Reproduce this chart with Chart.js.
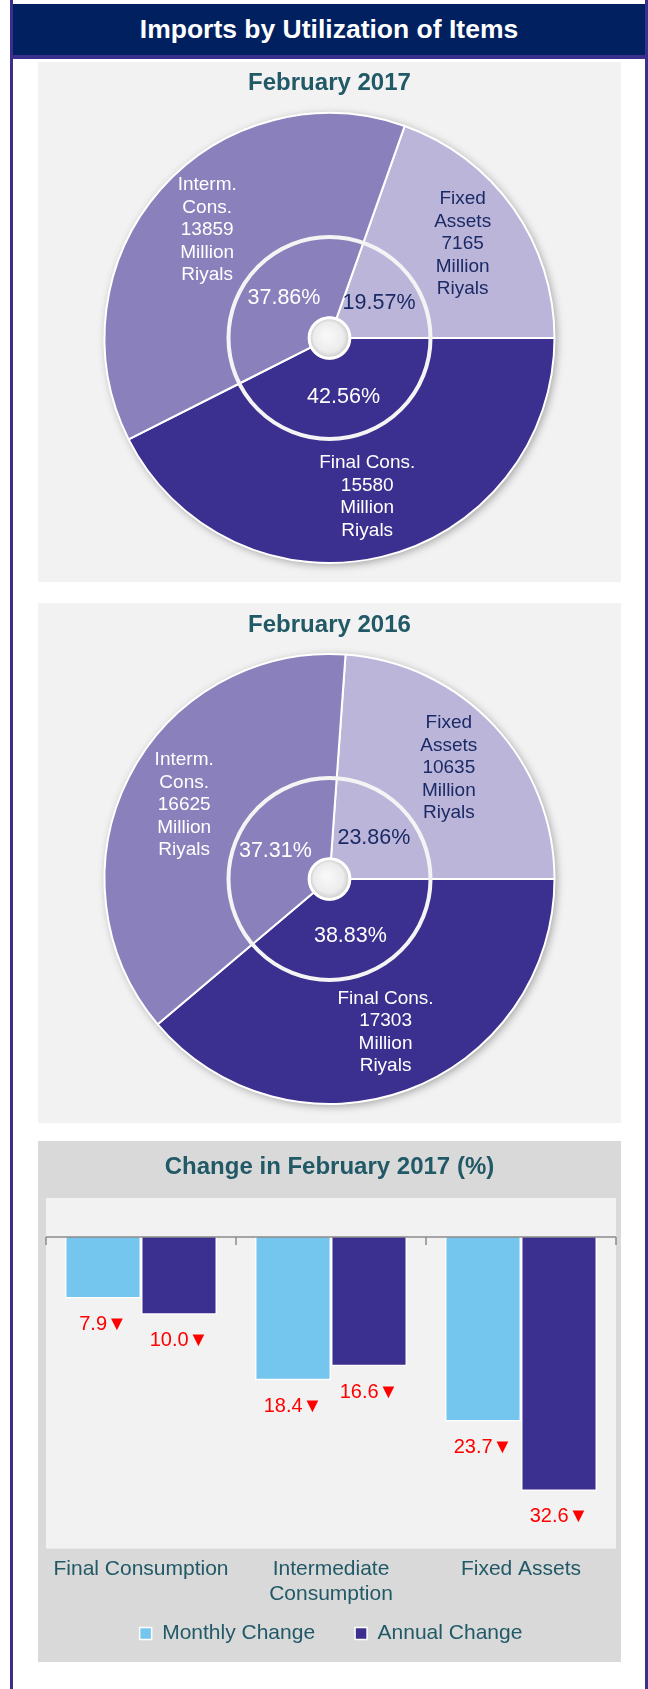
<!DOCTYPE html>
<html>
<head>
<meta charset="utf-8">
<script src="https://cdn.jsdelivr.net/npm/chart.js@4"></script>
<style>
  body { margin: 0; width: 648px; height: 1689px; background: #fff; overflow: hidden;
         font-family: 'Liberation Sans', Arial, sans-serif; }
  .frame { position: absolute; left: 10px; top: 0; width: 632px; height: 1689px;
           border-left: 3px solid #3a2f8f; border-right: 3px solid #3a2f8f; }
  .header { position: absolute; left: 13px; top: 4px; width: 632px; height: 51px;
            background: #002060; border-bottom: 4px solid #3a2f8f; color: #fff;
            font-weight: bold; font-size: 26.5px; line-height: 51px; text-align: center; }
  .panel { position: absolute; left: 38px; width: 583px; background: #f2f2f2; }
  .panel canvas { position: absolute; left: 0; top: 0; }
  .ptitle { position: absolute; left: 0; width: 100%; text-align: center;
            color: #215967; font-weight: bold; font-size: 24px; line-height: 30px; }
</style>
</head>
<body>
<div class="frame"></div>
<div class="header">Imports by Utilization of Items</div>

<div class="panel" style="top:62px;height:520px;">
  <canvas id="pie2017" width="583" height="520"></canvas>
  <div class="ptitle" style="top:5px;">February 2017</div>
</div>

<div class="panel" style="top:603px;height:520px;">
  <canvas id="pie2016" width="583" height="520"></canvas>
  <div class="ptitle" style="top:6px;">February 2016</div>
</div>

<div class="panel" style="top:1141px;height:521px;background:#d9d9d9;">
  <canvas id="changeChart" width="583" height="521"></canvas>
  <div class="ptitle" style="top:10px;">Change in February 2017 (%)</div>
</div>

<script>
// slices: Fixed Assets, Final Cons., Interm. Cons.
const sliceNames = [['Fixed', 'Assets'], ['Final Cons.'], ['Interm.', 'Cons.']];
const sliceColors = ['#bbb5da', '#3b2f8f', '#8a80bb'];
const sliceTextColors = ['#1b2a64', '#ffffff', '#ffffff'];

const values2017 = [7165, 15580, 13859];   // million riyals
const shares2017 = [19.57, 42.56, 37.86];  // %
const values2016 = [10635, 17303, 16625];
const shares2016 = [23.86, 38.83, 37.31];

// bar chart
const changeCategories = ['Final Consumption', ['Intermediate', 'Consumption'], 'Fixed Assets'];
const monthlyChange = [-7.9, -18.4, -23.7];
const annualChange = [-10.0, -16.6, -32.6];

const FONT = "'Liberation Sans', Arial, sans-serif";
const TEAL = '#215967';

// 도넛 바깥 그림자
const pieShadow = {
    id: 'pieShadow',
    beforeDatasetsDraw(chart) {
        const arc = chart.getDatasetMeta(0).data[0];
        const ctx = chart.ctx;
        ctx.save();
        ctx.shadowColor = 'rgba(0,0,0,0.35)';
        ctx.shadowBlur = 9;
        ctx.shadowOffsetX = 2;
        ctx.shadowOffsetY = 2;
        ctx.beginPath();
        ctx.arc(arc.x, arc.y, arc.outerRadius, 0, Math.PI * 2);
        ctx.fillStyle = '#ffffff';
        ctx.fill();
        ctx.restore();
    }
};

// 안쪽 링 테두리, 가운데 구멍, 라벨
const pieDecor = {
    id: 'pieDecor',
    afterDatasetsDraw(chart) {
        const ctx = chart.ctx;
        const inner = chart.getDatasetMeta(1).data[0];
        const cx = inner.x, cy = inner.y;

        ctx.save();
        ctx.beginPath();
        ctx.arc(cx, cy, inner.outerRadius, 0, Math.PI * 2);
        ctx.strokeStyle = '#f4f4f4';
        ctx.lineWidth = 4;
        ctx.stroke();

        // hole
        const r = inner.innerRadius;
        const g = ctx.createRadialGradient(cx - 3, cy - 3, 2, cx, cy, r);
        g.addColorStop(0, '#f8f8f8');
        g.addColorStop(0.7, '#ececec');
        g.addColorStop(1, '#c8c8c8');
        ctx.beginPath();
        ctx.arc(cx, cy, r, 0, Math.PI * 2);
        ctx.fillStyle = g;
        ctx.fill();
        ctx.strokeStyle = '#ffffff';
        ctx.lineWidth = 3;
        ctx.stroke();

        const opts = chart.options.plugins.pieDecor;
        ctx.textAlign = 'center';
        ctx.textBaseline = 'middle';

        // outer labels
        chart.getDatasetMeta(0).data.forEach((arc, i) => {
            const p = arc.getCenterPoint();
            const lines = sliceNames[i].concat([String(opts.values[i]), 'Million', 'Riyals']);
            ctx.font = '19px ' + FONT;
            ctx.fillStyle = sliceTextColors[i];
            const lh = 22.5;
            lines.forEach((t, k) => {
                ctx.fillText(t, p.x, p.y + (k - (lines.length - 1) / 2) * lh);
            });
        });

        // inner percentages
        chart.getDatasetMeta(1).data.forEach((arc, i) => {
            const p = arc.getCenterPoint();
            ctx.font = '21.5px ' + FONT;
            ctx.fillStyle = sliceTextColors[i];
            ctx.fillText(opts.shares[i].toFixed(2) + '%', p.x, p.y);
        });
        ctx.restore();
    }
};

function makePie(id, values, shares) {
    const total = values.reduce((a, b) => a + b, 0);
    return new Chart(document.getElementById(id), {
        type: 'doughnut',
        data: {
            labels: sliceNames.map(n => n.join(' ')),
            datasets: [
                { data: values, backgroundColor: sliceColors, borderColor: '#ffffff',
                  borderWidth: 2, weight: 123, clip: false },
                { data: shares, backgroundColor: sliceColors, borderColor: '#ffffff',
                  borderWidth: 2, weight: 80, clip: false }
            ]
        },
        options: {
            responsive: false,
            animation: false,
            radius: 225,
            cutout: 22,
            rotation: 90 - 360 * values[0] / total,
            layout: { padding: { top: 32, bottom: 0, left: 0, right: 0 } },
            plugins: {
                legend: { display: false },
                tooltip: { enabled: false },
                pieDecor: { values: values, shares: shares }
            }
        },
        plugins: [pieShadow, pieDecor]
    });
}

makePie('pie2017', values2017, shares2017);
makePie('pie2016', values2016, shares2016);

// 막대 차트: 플롯 배경, 0선 + 눈금, 값 라벨
const plotBg = {
    id: 'plotBg',
    beforeDraw(chart) {
        const a = chart.chartArea;
        chart.ctx.save();
        chart.ctx.fillStyle = '#f2f2f2';
        chart.ctx.fillRect(a.left, a.top, a.right - a.left, a.bottom - a.top);
        chart.ctx.restore();
    }
};

const zeroAxis = {
    id: 'zeroAxis',
    afterDatasetsDraw(chart) {
        const ctx = chart.ctx;
        const x = chart.scales.x, y = chart.scales.y;
        const y0 = y.getPixelForValue(0);
        ctx.save();
        ctx.strokeStyle = '#8c8c8c';
        ctx.lineWidth = 1.5;
        ctx.beginPath();
        ctx.moveTo(x.left, y0);
        ctx.lineTo(x.right, y0);
        const step = x.width / changeCategories.length;
        for (let i = 0; i <= changeCategories.length; i++) {
            const tx = x.left + i * step;
            ctx.moveTo(tx, y0);
            ctx.lineTo(tx, y0 + 8);
        }
        ctx.stroke();

        ctx.fillStyle = '#ff0000';
        ctx.font = '20px ' + FONT;
        ctx.textAlign = 'center';
        ctx.textBaseline = 'middle';
        chart.data.datasets.forEach((ds, di) => {
            chart.getDatasetMeta(di).data.forEach((bar, i) => {
                const v = Math.abs(ds.data[i]).toFixed(1) + (ds.data[i] < 0 ? '▼' : '▲');
                ctx.fillText(v, bar.x, bar.y + 26);
            });
        });
        ctx.restore();
    }
};

// 범례 항목 간격(padding)은 유지하고, 위쪽 여백만 줄여서 축 라벨 공간 확보
const LEGEND_SHIFT = 32;
const legendTight = {
    id: 'legendTight',
    afterInit(chart) {
        const lg = chart.legend;
        const fit = lg.fit.bind(lg);
        lg.fit = function () { fit(); this.height -= LEGEND_SHIFT; };
        const draw = lg.draw.bind(lg);
        lg.draw = function (area) {
            this.top -= LEGEND_SHIFT;
            draw(area);
            this.top += LEGEND_SHIFT;
        };
    }
};

new Chart(document.getElementById('changeChart'), {
    type: 'bar',
    data: {
        labels: changeCategories,
        datasets: [
            { label: 'Monthly Change', data: monthlyChange, backgroundColor: '#75c6ee',
              borderColor: '#ffffff', borderWidth: 1.5 },
            { label: 'Annual Change', data: annualChange, backgroundColor: '#3b2f8f',
              borderColor: '#ffffff', borderWidth: 1.5 }
        ]
    },
    options: {
        responsive: false,
        animation: false,
        categoryPercentage: 0.8,
        barPercentage: 1.0,
        layout: { padding: { top: 57, left: 8, right: 5, bottom: 8 } },
        scales: {
            x: {
                grid: { display: false, drawTicks: false },
                border: { display: false },
                ticks: { color: TEAL, font: { family: FONT, size: 21 }, padding: 8,
                         maxRotation: 0, autoSkip: false }
            },
            y: { display: false, min: -40, max: 5 }
        },
        plugins: {
            legend: {
                position: 'bottom',
                labels: { color: TEAL, font: { family: FONT, size: 21 },
                          boxWidth: 12, boxHeight: 12, padding: 40 }
            },
            tooltip: { enabled: false }
        }
    },
    plugins: [plotBg, zeroAxis, legendTight]
});
</script>
</body>
</html>
